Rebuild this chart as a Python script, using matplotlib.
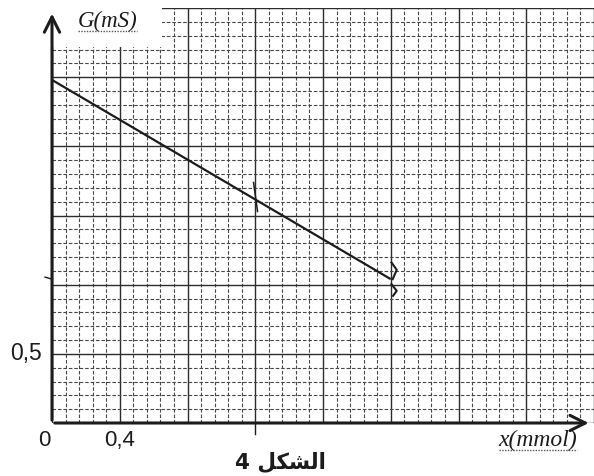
import numpy as np
import matplotlib
matplotlib.use("Agg")
import matplotlib.pyplot as plt
from matplotlib.patches import Rectangle

# values
x_mmol = [0.0, 2.0]
G_mS = [2.48, 1.04]
mid_x = [1.2]
mid_G = [1.63]

x_major = np.arange(0, 3.21, 0.4)
y_major = np.arange(0, 3.01, 0.5)
x_minor = np.arange(0, 3.21, 0.08)
y_minor = np.arange(0, 3.01, 0.1)

x_max = 3.19
y_max = 3.0

fig = plt.figure(figsize=(5.94, 4.76), dpi=100)
ax = fig.add_axes([52 / 594, 53 / 476, 542 / 594, 415 / 476])
ax.set_xlim(0, x_max)
ax.set_ylim(0, y_max)

# px -> data scale (for small hand marks)
sx = x_max / 542
sy = y_max / 415

ink = "#1c1c1c"

ax.set_xticks(x_major)
ax.set_yticks(y_major)
ax.set_xticks(x_minor, minor=True)
ax.set_yticks(y_minor, minor=True)
ax.grid(which="major", color="#2c2c2c", linewidth=1.0, linestyle="-")
ax.grid(which="minor", color="#484848", linewidth=0.8, linestyle=(0, (3.2, 1.7)))
ax.tick_params(which="both", length=0, labelbottom=False, labelleft=False)
for s in ax.spines.values():
    s.set_visible(False)
ax.set_axisbelow(True)

# blank box for the axis label
ax.add_patch(Rectangle((0, 2.72), 0.65, 0.3, facecolor="white", edgecolor="none",
                       zorder=1.5, clip_on=False))

# axes with arrows
arrow = dict(arrowstyle="->,head_length=1.1,head_width=0.55", lw=2.2, color=ink)
ax.annotate("", xy=(x_max - 0.005, 0), xytext=(0, 0), arrowprops=arrow,
            annotation_clip=False, zorder=5)
ax.annotate("", xy=(0, y_max - 0.02), xytext=(0, 0), arrowprops=arrow,
            annotation_clip=False, zorder=5)

# the line
ax.plot(x_mmol, G_mS, color=ink, linewidth=1.6, zorder=4, solid_capstyle="butt")

# tick across the line at the middle point
ax.plot([mid_x[0] - 1.7 * sx, mid_x[0] + 2.3 * sx],
        [mid_G[0] + 15 * sy, mid_G[0] - 14 * sy], color=ink, lw=1.1, zorder=4)
# small marks on the axes
ax.plot([mid_x[0], mid_x[0]], [0, -11 * sy], color=ink, lw=1.0, clip_on=False, zorder=4)
ax.plot([-7 * sx, 0], [G_mS[1] + 2 * sy, G_mS[1]], color=ink, lw=1.0, clip_on=False, zorder=4)

# double chevron at the end of the line
ex, eg = x_mmol[1], G_mS[1]
for pts in ([(0.7, -16.7), (6.0, -9.3), (2.0, 0.0)],
            [(0.7, 5.0), (6.0, 11.7), (2.3, 16.7)]):
    ax.plot([ex + px * sx for px, py in pts], [eg - py * sy for px, py in pts],
            color=ink, lw=1.5, zorder=4)

# labels
ax.text(0.15, 2.905, "G(mS)", fontsize=16.5, family="Liberation Serif", style="italic",
        ha="left", va="center", color=ink, zorder=6)
ax.plot([0.155, 0.50], [2.835, 2.835], color="#555555", lw=1.0, linestyle=(0, (1, 1)), zorder=6)

ax.text(2.87, -0.125, "x(mmol)", fontsize=17, family="Liberation Serif", style="italic",
        ha="center", va="center", color=ink, clip_on=False)
ax.plot([2.64, 3.10], [-0.197, -0.197], color="#555555", lw=1.0, linestyle=(0, (1, 1)),
        clip_on=False)

ax.text(-0.058, y_major[1] + 0.005, "0,5", fontsize=16.5, family="Liberation Sans",
        ha="right", va="center", color=ink, clip_on=False)
ax.text(-0.047, -0.125, "0", fontsize=16, family="Liberation Sans",
        ha="center", va="center", color=ink, clip_on=False)
ax.text(x_major[1], -0.125, "0,4", fontsize=16, family="Liberation Sans",
        ha="center", va="center", color=ink, clip_on=False)

# "الشكل 4" written in presentation forms, visual order, since matplotlib does no Arabic shaping
ax.text(1.35, -0.285, "4 \uFEDE\uFEDC\uFEB8\uFEDF\uFE8D", fontsize=15.5, fontweight="bold",
        family=["DejaVu Sans"], ha="center", va="center", color=ink, clip_on=False)

fig.savefig("out.png", dpi=100, facecolor="white")
